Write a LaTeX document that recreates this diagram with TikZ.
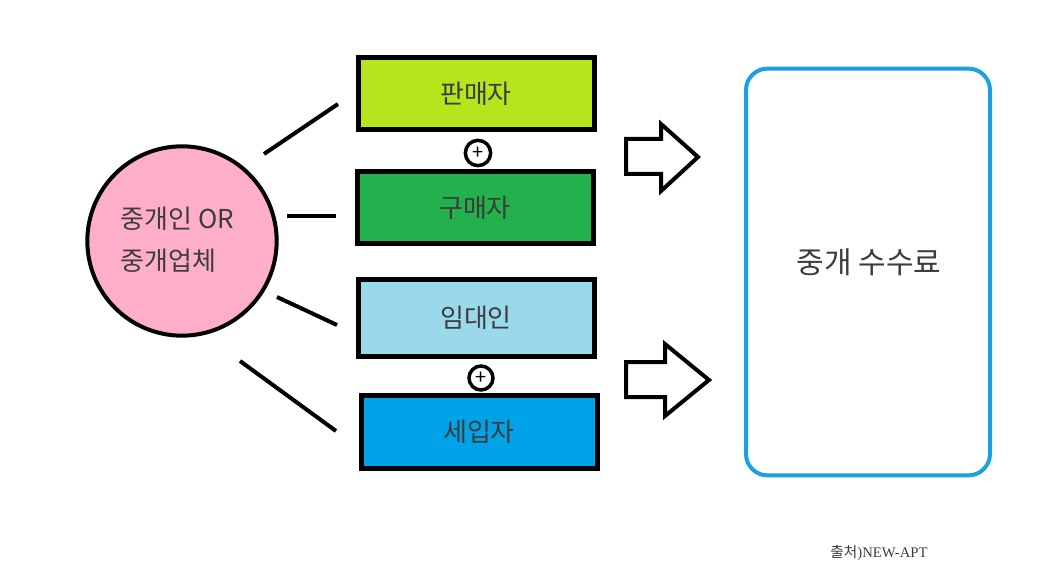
\documentclass[tikz,border=0pt]{standalone}
\usepackage{fontspec}
\setmainfont{Noto Sans CJK KR}
\newfontfamily\serifx{Liberation Serif}
\definecolor{cA}{HTML}{B5E61D}
\definecolor{cB}{HTML}{22B14C}
\definecolor{cC}{HTML}{99D9EA}
\definecolor{cD}{HTML}{00A2E8}
\definecolor{cPink}{HTML}{FFAEC9}
\definecolor{cBlue}{HTML}{1BA1E2}
\definecolor{txt}{HTML}{3C3C3C}
\tikzset{
  rolebox/.style={draw=black, line width=3.75pt, minimum width=177pt, minimum height=54pt, inner sep=0pt, font=\fontsize{19.5}{22}\selectfont, text=txt},
  plus/.style={draw=black, line width=2.6pt, circle, minimum size=19pt, inner sep=0pt, font=\fontsize{15}{15}\selectfont},
  link/.style={line width=3pt},
  bigarrow/.style={draw=black, line width=3pt, fill=white, line join=miter}
}
\begin{document}
\begin{tikzpicture}[x=0.75pt,y=-0.75pt]
\useasboundingbox (0,0) rectangle (1047,588);
% boxes
\node[rolebox, fill=cA] (seller) at (476,94) {판매자};
\node[plus] (p1) at (478,153) {+};
\node[rolebox, fill=cB] (buyer) at (475,208) {구매자};
\node[rolebox, fill=cC, minimum height=58pt] (lessor) at (476,318) {임대인};
\node[plus, minimum size=18pt] (p2) at (481,378) {+};
\node[rolebox, fill=cD, minimum height=55pt] (lessee) at (479,432) {세입자};
% agent circle
\node[draw=black, line width=3pt, fill=cPink, circle, minimum size=142pt, inner sep=0pt] (agent) at (182,241) {};
\node[anchor=west, align=left, text=txt, font=\fontsize{19.5}{31.5}\selectfont] (agenttxt) at (116,240) {중개인 OR\\중개업체};
% connecting lines
\coordinate (a1) at (264,154); \coordinate (b1) at (338,104);
\coordinate (a2) at (287,216); \coordinate (b2) at (336,216);
\coordinate (a3) at (277,297); \coordinate (b3) at (337,325);
\coordinate (a4) at (240,361); \coordinate (b4) at (336,431);
\draw[link] (a1) -- (b1);
\draw[link] (a2) -- (b2);
\draw[link] (a3) -- (b3);
\draw[link] (a4) -- (b4);
% block arrows
\draw[bigarrow] (626,139) -- (661,139) -- (661,124) -- (698,157) -- (661,191) -- (661,174) -- (626,174) -- cycle;
\draw[bigarrow] (626,362) -- (665,362) -- (665,344) -- (709,380) -- (665,416) -- (665,397) -- (626,397) -- cycle;
% fee box
\node[draw=cBlue, line width=3pt, rounded corners=16pt, minimum width=183pt, minimum height=305pt, inner sep=0pt] (fee) at (868,272) {};
\node[text=txt, font=\fontsize{22.5}{26}\selectfont] (feetxt) at (869,262) {중개 수수료};
\node[text=txt, font=\fontsize{11}{13}\selectfont] (src) at (879,553) {출처{\serifx )NEW-APT}};
\end{tikzpicture}
\end{document}
